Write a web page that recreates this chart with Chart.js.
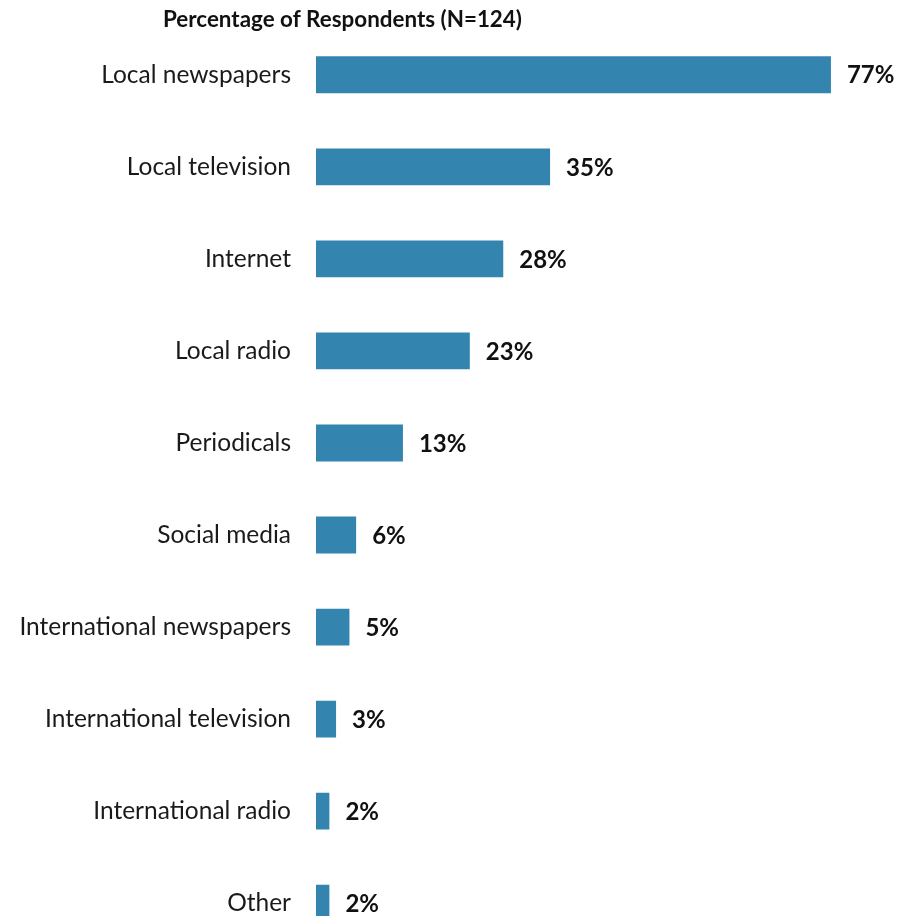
<!DOCTYPE html>
<html>
<head>
<meta charset="utf-8">
<script src="https://cdn.jsdelivr.net/npm/chart.js@4/dist/chart.umd.min.js"></script>
<style>
  html, body { margin: 0; padding: 0; background: #fff; overflow: hidden; }
  canvas { display: block; margin-top: -11px; }
</style>
</head>
<body>
<canvas id="chart" width="898" height="1000"></canvas>
<script>
// data
var categories = ["Local newspapers", "Local television", "Internet", "Local radio", "Periodicals",
  "Social media", "International newspapers", "International television", "International radio", "Other"];
var percents = [77, 35, 28, 23, 13, 6, 5, 3, 2, 2];
var chartTitle = "Percentage of Respondents (N=124)";

var FONT = "Lato, 'Open Sans', sans-serif";

// value labels at the end of each bar + the title on top
var labelsPlugin = {
  id: "barLabels",
  afterDatasetsDraw: function (chart) {
    var ctx = chart.ctx;
    var meta = chart.getDatasetMeta(0);
    ctx.save();
    ctx.fillStyle = "#111";
    ctx.font = "bold 24px " + FONT;
    ctx.textAlign = "left";
    ctx.textBaseline = "middle";
    meta.data.forEach(function (bar, i) {
      ctx.fillText(percents[i] + "%", bar.x + 16, bar.y + 1);
    });
    // canvas is pulled up 11px, so add it back here
    ctx.font = "bold 22.4px " + FONT;
    ctx.textBaseline = "alphabetic";
    ctx.fillText(chartTitle, 163, 38);
    ctx.restore();
  }
};

new Chart(document.getElementById("chart"), {
  type: "bar",
  data: {
    labels: categories,
    datasets: [{
      data: percents,
      backgroundColor: "#3385b0",
      barPercentage: 1,
      categoryPercentage: 0.40
    }]
  },
  plugins: [labelsPlugin],
  options: {
    indexAxis: "y",
    responsive: false,
    animation: false,
    layout: { padding: { top: 29, right: 47, bottom: 1, left: 0 } },
    plugins: { legend: { display: false }, tooltip: { enabled: false } },
    scales: {
      x: { display: false, min: 0, max: 80 },
      y: {
        grid: { display: false, drawTicks: false },
        border: { display: false },
        ticks: { color: "#1a1a1a", padding: 25, font: { family: FONT, size: 24.5 } },
        afterFit: function (scale) { scale.width = 316; }
      }
    }
  }
});
</script>
</body>
</html>
